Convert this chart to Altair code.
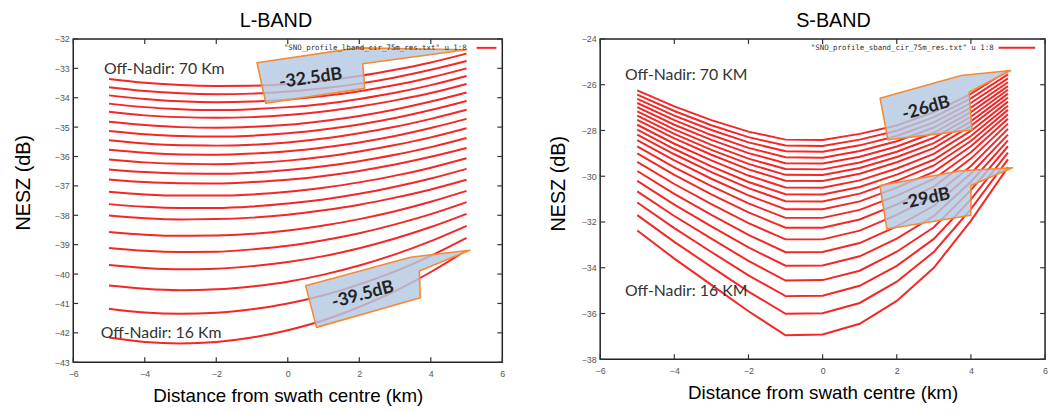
import altair as alt
import pandas as pd

# ---------------- data ----------------
X_KM = [-5, -4, -3, -2, -1, 0, 1, 2, 3, 4, 5]

# L-band NESZ curves (dB), one row per off-nadir distance (70 km at top -> 16 km at bottom)
L_NESZ = [
    [-33.36, -33.49, -33.57, -33.60, -33.59, -33.53, -33.42, -33.26, -33.05, -32.80, -32.50],
    [-33.64, -33.77, -33.85, -33.88, -33.86, -33.79, -33.68, -33.52, -33.31, -33.05, -32.75],
    [-33.92, -34.04, -34.12, -34.15, -34.13, -34.06, -33.94, -33.78, -33.57, -33.31, -33.00],
    [-34.20, -34.32, -34.39, -34.42, -34.39, -34.32, -34.21, -34.04, -33.83, -33.57, -33.26],
    [-34.48, -34.60, -34.66, -34.68, -34.66, -34.59, -34.47, -34.30, -34.09, -33.84, -33.53],
    [-34.82, -34.93, -35.00, -35.02, -34.99, -34.92, -34.79, -34.62, -34.40, -34.13, -33.82],
    [-35.13, -35.24, -35.30, -35.32, -35.29, -35.21, -35.08, -34.91, -34.69, -34.42, -34.11],
    [-35.45, -35.56, -35.62, -35.63, -35.60, -35.52, -35.39, -35.21, -34.99, -34.72, -34.41],
    [-35.77, -35.87, -35.93, -35.94, -35.90, -35.82, -35.69, -35.52, -35.30, -35.03, -34.72],
    [-36.10, -36.20, -36.25, -36.26, -36.22, -36.14, -36.01, -35.83, -35.61, -35.35, -35.04],
    [-36.44, -36.53, -36.58, -36.59, -36.55, -36.46, -36.33, -36.16, -35.94, -35.68, -35.37],
    [-36.78, -36.87, -36.91, -36.92, -36.87, -36.79, -36.66, -36.49, -36.27, -36.01, -35.71],
    [-37.20, -37.29, -37.33, -37.33, -37.29, -37.20, -37.06, -36.88, -36.65, -36.38, -36.06],
    [-37.62, -37.71, -37.75, -37.75, -37.70, -37.60, -37.46, -37.27, -37.03, -36.75, -36.42],
    [-38.01, -38.10, -38.14, -38.13, -38.08, -37.98, -37.83, -37.64, -37.40, -37.12, -36.79],
    [-38.57, -38.66, -38.70, -38.69, -38.63, -38.52, -38.35, -38.13, -37.86, -37.54, -37.17],
    [-39.11, -39.21, -39.25, -39.24, -39.16, -39.04, -38.85, -38.61, -38.31, -37.96, -37.55],
    [-39.69, -39.79, -39.84, -39.82, -39.73, -39.59, -39.39, -39.12, -38.79, -38.40, -37.95],
    [-40.39, -40.50, -40.55, -40.52, -40.42, -40.26, -40.02, -39.71, -39.33, -38.88, -38.36],
    [-41.18, -41.31, -41.35, -41.32, -41.20, -41.00, -40.72, -40.35, -39.91, -39.38, -38.77],
    [-42.16, -42.31, -42.36, -42.31, -42.16, -41.91, -41.57, -41.12, -40.58, -39.93, -39.19],
]

# S-band NESZ curves (dB)
S_NESZ = [
    [-26.25, -26.95, -27.55, -28.05, -28.40, -28.42, -28.15, -27.78, -27.20, -26.40, -25.38],
    [-26.43, -27.15, -27.77, -28.29, -28.66, -28.68, -28.40, -28.01, -27.42, -26.60, -25.55],
    [-26.62, -27.35, -27.98, -28.52, -28.91, -28.93, -28.65, -28.24, -27.65, -26.80, -25.72],
    [-26.80, -27.55, -28.20, -28.76, -29.17, -29.19, -28.90, -28.47, -27.87, -27.00, -25.89],
    [-26.98, -27.75, -28.41, -28.99, -29.43, -29.44, -29.15, -28.70, -28.10, -27.20, -26.06],
    [-27.17, -27.95, -28.63, -29.23, -29.68, -29.70, -29.40, -28.93, -28.32, -27.40, -26.22],
    [-27.35, -28.15, -28.85, -29.46, -29.94, -29.95, -29.64, -29.16, -28.55, -27.60, -26.39],
    [-27.54, -28.35, -29.06, -29.70, -30.20, -30.21, -29.89, -29.39, -28.77, -27.80, -26.56],
    [-27.75, -28.58, -29.31, -29.97, -30.49, -30.50, -30.18, -29.66, -29.02, -28.02, -26.74],
    [-27.96, -28.81, -29.57, -30.25, -30.79, -30.80, -30.47, -29.93, -29.28, -28.24, -26.92],
    [-28.18, -29.04, -29.82, -30.52, -31.09, -31.10, -30.76, -30.20, -29.53, -28.46, -27.10],
    [-28.42, -29.31, -30.11, -30.84, -31.44, -31.44, -31.10, -30.50, -29.81, -28.69, -27.29],
    [-28.70, -29.61, -30.43, -31.19, -31.82, -31.82, -31.47, -30.85, -30.12, -28.95, -27.49],
    [-29.00, -29.94, -30.79, -31.58, -32.25, -32.25, -31.89, -31.23, -30.46, -29.23, -27.70],
    [-29.37, -30.34, -31.22, -32.05, -32.76, -32.76, -32.38, -31.69, -30.86, -29.55, -27.93],
    [-29.77, -30.77, -31.69, -32.56, -33.32, -33.31, -32.92, -32.19, -31.29, -29.88, -28.18],
    [-30.20, -31.24, -32.19, -33.11, -33.91, -33.90, -33.50, -32.73, -31.74, -30.24, -28.43],
    [-30.66, -31.74, -32.73, -33.70, -34.56, -34.54, -34.13, -33.30, -32.23, -30.61, -28.69],
    [-31.15, -32.27, -33.31, -34.33, -35.24, -35.22, -34.79, -33.92, -32.74, -31.01, -28.97],
    [-31.70, -32.87, -33.96, -35.04, -36.01, -35.99, -35.54, -34.61, -33.31, -31.44, -29.26],
    [-32.37, -33.60, -34.75, -35.90, -36.95, -36.92, -36.45, -35.45, -34.00, -31.95, -29.60],
]

X_TICKS = [-6, -4, -2, 0, 2, 4, 6]
L_YTICKS = [-43, -42, -41, -40, -39, -38, -37, -36, -35, -34, -33, -32]
S_YTICKS = [-38, -36, -34, -32, -30, -28, -26, -24]

L_LEGEND = '"SNO_profile_lband_cir_75m_res.txt" u 1:8'
S_LEGEND = '"SNO_profile_sband_cir_75m_res.txt" u 1:8'

L_NOTE_TEXT = ["Off-Nadir: 70 Km", "Off-Nadir: 16 Km"]
L_NOTE_X = [-5.14, -5.23]
L_NOTE_Y = [-33.02, -42.02]
S_NOTE_TEXT = ["Off-Nadir: 70 KM", "Off-Nadir: 16 KM"]
S_NOTE_X = [-5.33, -5.33]
S_NOTE_Y = [-25.56, -35.03]

L_CALLOUT_TEXT = ["-32.5dB", "-39.5dB"]
L_CALLOUT_TIP_X = [5.0, 5.09]
L_CALLOUT_TIP_Y = [-32.37, -39.19]
L_CALLOUT_LABEL_X = [0.64, 2.10]
L_CALLOUT_LABEL_Y = [-33.35, -40.71]
L_CALLOUT_ANGLE = [352, 345]

S_CALLOUT_TEXT = ["-26dB", "-29dB"]
S_CALLOUT_TIP_X = [5.07, 5.12]
S_CALLOUT_TIP_Y = [-25.38, -29.63]
S_CALLOUT_LABEL_X = [2.79, 2.79]
S_CALLOUT_LABEL_Y = [-27.04, -31.0]
S_CALLOUT_ANGLE = [344, 348]

# callout outlines (relative to pointer tip, in units of 100 px)
L_CALLOUT_SHAPES = [
    "M -2.12 0.13 L -1.10 -0.02 L 0 0 L -1.05 0.14 L -1.03 0.39 L -2.03 0.54 Z",
    "M -1.66 0.36 L -0.60 0.07 L 0 0 L -0.51 0.21 L -0.50 0.48 L -1.55 0.78 Z",
]
S_CALLOUT_SHAPES = [
    "M -1.32 0.28 L -0.50 0.05 L 0 0 L -0.42 0.22 L -0.39 0.60 L -1.24 0.70 Z",
    "M -1.34 0.18 L -0.52 0.03 L 0 0 L -0.42 0.18 L -0.42 0.48 L -1.27 0.62 Z",
]

RED = "#f42626"
BOX_FILL = "#b4c8e2"
BOX_EDGE = "#f58a34"


def panel(rows, ydom, yticks, w, h, title, title_dx, legend, legend_x, line_x,
          note_text, note_x, note_y, c_text, c_tx, c_ty, c_lx, c_ly, c_ang, c_shapes,
          ytitle_x, ytitle_y, interp):
    recs = []
    for i, row in enumerate(rows):
        for x, v in zip(X_KM, row):
            recs.append({"curve": i, "x": x, "nesz": v})
    df = pd.DataFrame(recs)

    xs = alt.Scale(domain=[-6, 6], nice=False, zero=False)
    ys = alt.Scale(domain=ydom, nice=False, zero=False)

    xaxis = alt.Axis(values=X_TICKS, ticks=False, domain=False, grid=False,
                     labelFontSize=9, labelColor="#555", labelFont="Liberation Sans",
                     labelPadding=7, labelFlush=False,
                     title="Distance from swath centre (km)", titleFontSize=19,
                     titleFont="Liberation Sans", titleFontWeight="normal",
                     titleColor="#000", titleY=25)
    yaxis = alt.Axis(values=yticks, ticks=False, domain=False, grid=False,
                     labelFontSize=9, labelColor="#555", labelFont="Liberation Sans",
                     labelPadding=4, labelFlush=False,
                     title="NESZ (dB)", titleFontSize=20, titleFont="Liberation Sans",
                     titleFontWeight="normal", titleColor="#000",
                     titleX=ytitle_x, titleY=ytitle_y)

    def X(field):
        return alt.X(field, scale=xs, axis=xaxis)

    def Y(field):
        return alt.Y(field, scale=ys, axis=yaxis)

    lines = alt.Chart(df).mark_line(color=RED, strokeWidth=2, interpolate=interp).encode(
        x=X("x:Q"), y=Y("nesz:Q"), detail="curve:N",
    )

    layers = [lines]

    for k in range(len(c_text)):
        cdf = pd.DataFrame({"tx": [c_tx[k]], "ty": [c_ty[k]]})
        layers.append(
            alt.Chart(cdf).mark_point(
                shape=c_shapes[k], size=40000, filled=True, fill=BOX_FILL,
                fillOpacity=0.82, stroke=BOX_EDGE, strokeWidth=1.6, opacity=1,
                strokeJoin="round",
            ).encode(x=X("tx:Q"), y=Y("ty:Q"))
        )

    ldf = pd.DataFrame({"t": c_text, "lx": c_lx, "ly": c_ly, "ang": c_ang})
    layers.append(
        alt.Chart(ldf).mark_text(font="Lato", fontWeight="bold", fontSize=18,
                                 color="#222", align="center", baseline="middle").encode(
            x=X("lx:Q"), y=Y("ly:Q"), text="t:N",
            angle=alt.Angle("ang:Q", scale=None),
        )
    )

    ndf = pd.DataFrame({"t": note_text, "nx": note_x, "ny": note_y})
    layers.append(
        alt.Chart(ndf).mark_text(font="Lato", fontSize=16, color="#333",
                                 align="left", baseline="middle").encode(
            x=X("nx:Q"), y=Y("ny:Q"), text="t:N",
        )
    )

    gdf = pd.DataFrame({"t": [legend]})
    layers.append(
        alt.Chart(gdf).mark_text(font="DejaVu Sans Mono", fontSize=7.5, color="#333",
                                 align="right", baseline="middle").encode(
            x=alt.value(legend_x), y=alt.value(9), text="t:N"
        )
    )
    layers.append(
        alt.Chart(gdf).mark_rule(color=RED, strokeWidth=2).encode(
            x=alt.value(line_x[0]), x2=alt.value(line_x[1]), y=alt.value(9)
        )
    )

    # gnuplot-style inward ticks on all four sides
    ytdf = pd.DataFrame({"v": yticks})
    xtdf = pd.DataFrame({"v": X_TICKS})
    tick_style = dict(color="#333", strokeWidth=1.2)
    layers.append(alt.Chart(ytdf).mark_rule(**tick_style).encode(
        y=Y("v:Q"), x=alt.value(0), x2=alt.value(5)))
    layers.append(alt.Chart(ytdf).mark_rule(**tick_style).encode(
        y=Y("v:Q"), x=alt.value(w - 5), x2=alt.value(w)))
    layers.append(alt.Chart(xtdf).mark_rule(**tick_style).encode(
        x=X("v:Q"), y=alt.value(h), y2=alt.value(h - 5)))
    layers.append(alt.Chart(xtdf).mark_rule(**tick_style).encode(
        x=X("v:Q"), y=alt.value(0), y2=alt.value(5)))

    return alt.layer(*layers).properties(
        width=w, height=h,
        title=alt.TitleParams(title, fontSize=20, font="Liberation Sans",
                              fontWeight="normal", color="#000", dx=title_dx,
                              offset=4, anchor="middle"),
    )


left = panel(L_NESZ, [-43, -32], L_YTICKS, 434, 327, "L-BAND", -12,
             L_LEGEND, 398, (408, 428),
             L_NOTE_TEXT, L_NOTE_X, L_NOTE_Y,
             L_CALLOUT_TEXT, L_CALLOUT_TIP_X, L_CALLOUT_TIP_Y,
             L_CALLOUT_LABEL_X, L_CALLOUT_LABEL_Y, L_CALLOUT_ANGLE, L_CALLOUT_SHAPES,
             -40, 145, "monotone")

right = panel(S_NESZ, [-38, -24], S_YTICKS, 450, 324, "S-BAND", 11,
              S_LEGEND, 398, (403, 440),
              S_NOTE_TEXT, S_NOTE_X, S_NOTE_Y,
              S_CALLOUT_TEXT, S_CALLOUT_TIP_X, S_CALLOUT_TIP_Y,
              S_CALLOUT_LABEL_X, S_CALLOUT_LABEL_Y, S_CALLOUT_ANGLE, S_CALLOUT_SHAPES,
              -32, 146, "linear")

chart = alt.hconcat(left, right, spacing=42).properties(
    padding={"left": 5, "top": 0, "right": 0, "bottom": 0}
).configure_view(stroke="#222", strokeWidth=1.5)

chart.save("out.html", embed_options={"renderer": "svg", "actions": False})
